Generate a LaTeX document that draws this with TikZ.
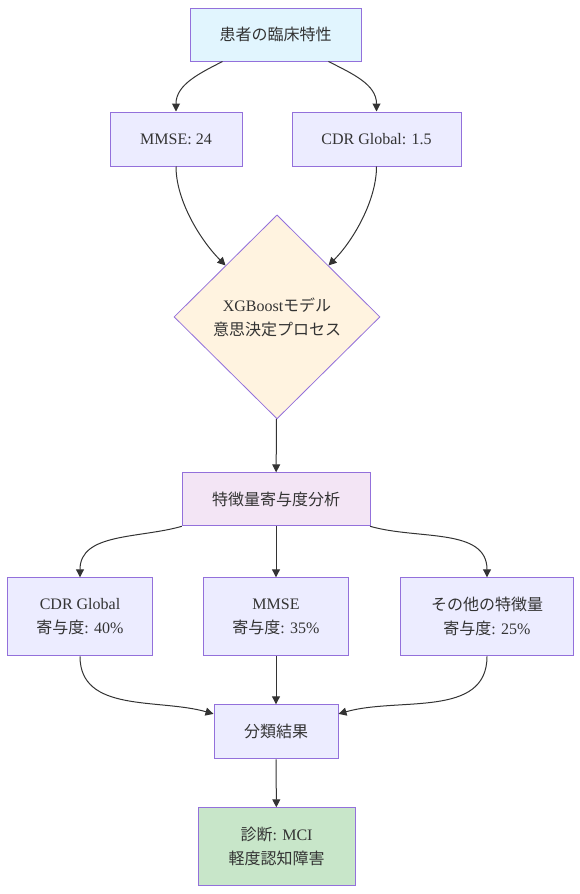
\documentclass[tikz,border=0pt]{standalone}
\usepackage{fontspec}
\setmainfont{Liberation Serif}
\newfontfamily\jp{Noto Sans CJK JP}
\usetikzlibrary{arrows.meta,positioning,shapes.geometric}
\definecolor{nodeline}{HTML}{9370DB}
\definecolor{nodebox}{HTML}{ECECFF}
\definecolor{inputbox}{HTML}{E1F5FE}
\definecolor{modelbox}{HTML}{FFF3E0}
\definecolor{featbox}{HTML}{F3E5F5}
\definecolor{diagbox}{HTML}{C8E6C9}
\definecolor{edgeline}{HTML}{333333}

\begin{document}
\begin{tikzpicture}[
  x=1pt, y=-1pt,
  font=\fontsize{16}{24}\selectfont,
  box/.style={draw=nodeline, fill=nodebox, text=edgeline, line width=1pt, align=center, inner sep=0pt, minimum height=54pt},
  tallbox/.style={box, minimum height=78pt},
  decision/.style={diamond, draw=nodeline, fill=modelbox, text=edgeline, line width=0.8pt, align=center, inner sep=0pt, minimum width=206pt, minimum height=204pt},
  edge/.style={draw=edgeline, line width=1pt, -{Triangle[length=8pt,width=8pt]}}
]
\useasboundingbox (0,0) rectangle (580,894);

\node[box, fill=inputbox, minimum width=171pt, minimum height=53pt] (patient) at (275.5,34.5) {{\jp 患者の臨床特性}};
\node[box, minimum width=132pt, below=50pt of patient, xshift=-99.5pt] (mmse) {MMSE: 24};
\node[box, minimum width=169pt, below=50pt of patient, xshift=101pt] (cdr) {CDR Global: 1.5};

\node[decision, below=153pt of patient, xshift=1.5pt] (xgb) {XGBoost{\jp モデル}\\{\jp 意思決定プロセス}};

\node[box, fill=featbox, minimum width=188pt, minimum height=53pt, below=53pt of xgb, xshift=-1pt] (feat) {{\jp 特徴量寄与度分析}};

\node[tallbox, minimum width=145pt, below=51pt of feat] (mmsew) {MMSE\\{\jp 寄与度}: 35\%};
\node[tallbox, minimum width=145pt, left=50pt of mmsew] (cdrw) {CDR Global\\{\jp 寄与度}: 40\%};
\node[tallbox, minimum width=173pt, right=51pt of mmsew] (otherw) {{\jp その他の特徴量}\\{\jp 寄与度}: 25\%};

\node[box, minimum width=124pt, below=48pt of mmsew] (result) {{\jp 分類結果}};
\node[tallbox, fill=diagbox, minimum width=157pt, below=48pt of result, xshift=0.5pt] (diag) {{\jp 診断}: MCI\\{\jp 軽度認知障害}};

% inputs
\draw[edge] (patient) to[out=-153, in=90] (mmse);
\draw[edge] (patient) to[out=-27, in=90] (cdr);
\draw[edge] (mmse) to[out=-90, in=135, looseness=0.8] (xgb);
\draw[edge] (cdr) to[out=-90, in=45, looseness=0.8] (xgb);

% model output
\draw[edge] (xgb) -- (feat);
\draw[edge] (feat) to[out=196, in=90] (cdrw);
\draw[edge] (feat) -- (mmsew);
\draw[edge] (feat) to[out=-16, in=90] (otherw);

% result
\draw[edge] (cdrw) to[out=-90, in=164] (result);
\draw[edge] (mmsew) -- (result);
\draw[edge] (otherw) to[out=-90, in=16] (result);
\draw[edge] (result) -- (diag);
\end{tikzpicture}
\end{document}
